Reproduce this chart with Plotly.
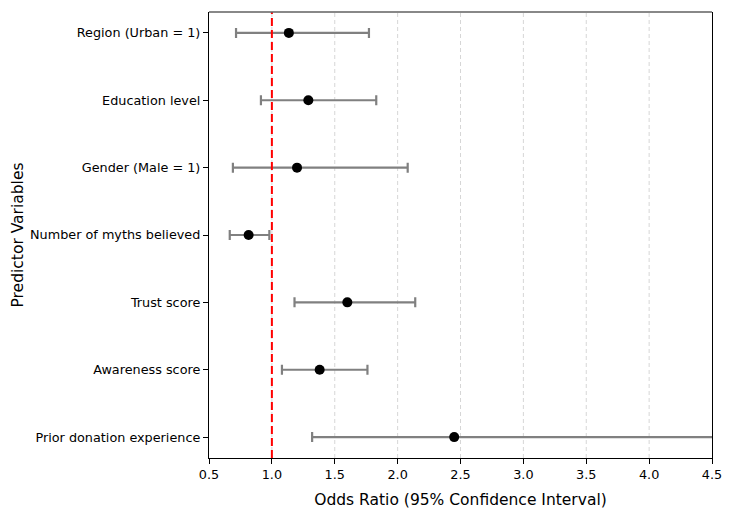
import plotly.graph_objects as go

predictors = ["Prior donation experience", "Awareness score", "Trust score",
              "Number of myths believed", "Gender (Male = 1)", "Education level",
              "Region (Urban = 1)"]
odds_ratio = [2.45, 1.38, 1.60, 0.815, 1.20, 1.29, 1.135]
ci_lower = [1.32, 1.08, 1.18, 0.665, 0.69, 0.913, 0.715]
ci_upper = [4.95, 1.76, 2.14, 0.98, 2.08, 1.83, 1.772]
x_ticks = [0.5, 1.0, 1.5, 2.0, 2.5, 3.0, 3.5, 4.0, 4.5]

ypos = list(range(len(predictors)))
err_plus = [u - o for u, o in zip(ci_upper, odds_ratio)]
err_minus = [o - l for o, l in zip(odds_ratio, ci_lower)]

fig = go.Figure()
fig.add_trace(go.Scatter(
    x=odds_ratio, y=ypos, mode="markers",
    marker=dict(color="black", size=10),
    error_x=dict(type="data", symmetric=False, array=err_plus, arrayminus=err_minus,
                 color="#808080", thickness=2.2, width=5),
    showlegend=False, hoverinfo="x+y",
))

# grid lines (interior ticks only)
for t in x_ticks[1:-1]:
    fig.add_shape(type="line", xref="x", yref="paper", x0=t, x1=t, y0=0, y1=1,
                  line=dict(color="#d6d6d6", width=1, dash="4px,3px"), layer="below")

# reference line at OR = 1
fig.add_shape(type="line", xref="x", yref="paper", x0=1, x1=1, y0=0, y1=1,
              line=dict(color="red", width=2, dash="8px,4px"), layer="above")

# top spine (gray)
fig.add_shape(type="line", xref="paper", yref="paper", x0=0, x1=1, y0=1, y1=1,
              line=dict(color="#606060", width=1.3), layer="above")

fig.update_layout(
    width=750, height=516,
    margin=dict(l=209, r=38, t=12, b=58),
    plot_bgcolor="white", paper_bgcolor="white",
    font=dict(family="DejaVu Sans", size=12.8, color="black"),
    xaxis=dict(range=[0.5, 4.5], tickvals=x_ticks, ticktext=[f"{t:.1f}" for t in x_ticks],
               showgrid=False, zeroline=False, showline=True, linecolor="black", linewidth=1.2,
               mirror=False, ticks="outside", ticklen=5, tickcolor="black",
               title=dict(text="Odds Ratio (95% Confidence Interval)", font=dict(size=15.5), standoff=12)),
    yaxis=dict(range=[-0.31, 6.31], tickvals=ypos, ticktext=predictors,
               showgrid=False, zeroline=False, showline=True, linecolor="black", linewidth=1.2,
               mirror=True, ticks="outside", ticklen=5, tickcolor="black",
               title=dict(text="Predictor Variables", font=dict(size=15.5), standoff=2)),
)

fig.write_html("out.html")
